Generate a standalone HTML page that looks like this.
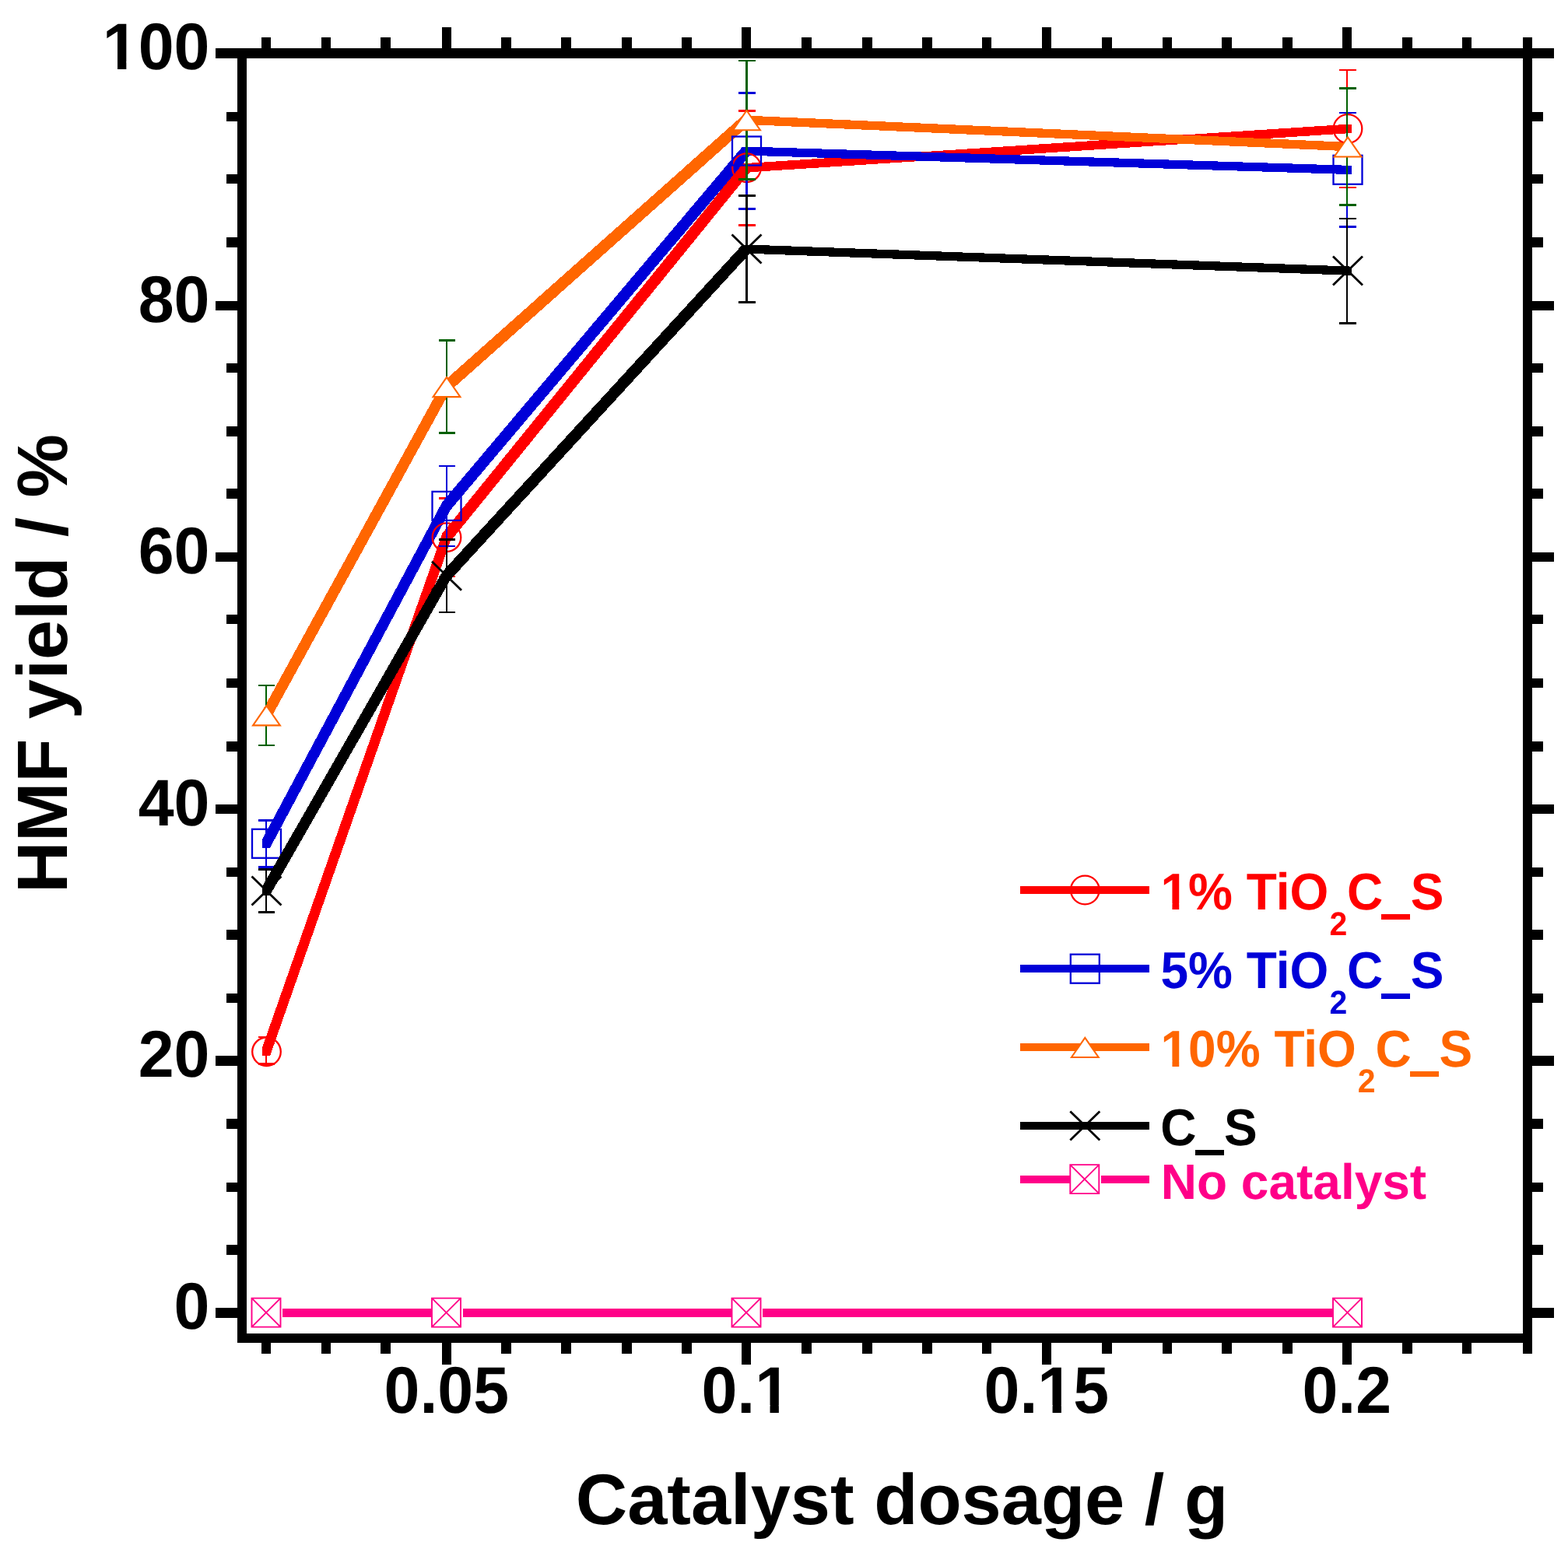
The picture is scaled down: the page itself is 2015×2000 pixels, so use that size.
<!DOCTYPE html>
<html lang="en">
<head>
<meta charset="utf-8">
<title>HMF yield vs catalyst dosage</title>
<style>
html,body{margin:0;padding:0;background:#fff;overflow:hidden;}
body{width:2015px;height:2000px;overflow:hidden;}
svg{display:block;}
text{white-space:pre;text-rendering:geometricPrecision;}
</style>
</head>
<body>
<svg width="2015" height="2000" viewBox="0 0 2015 2000">
<rect x="0" y="0" width="2015" height="2000" fill="#fff"/>
<g id="plot" shape-rendering="crispEdges">
<rect x="341" y="1333.1" width="2" height="34.2" fill="#ff0000"/>
<rect x="332" y="1331.8" width="21" height="2.6" fill="#ff0000"/>
<rect x="332" y="1366" width="21" height="2.6" fill="#ff0000"/>
<rect x="573" y="640.4" width="2" height="100.6" fill="#ff0000"/>
<rect x="564" y="639.1" width="21" height="2.6" fill="#ff0000"/>
<rect x="564" y="739.7" width="21" height="2.6" fill="#ff0000"/>
<rect x="958" y="142.2" width="3" height="147" fill="#ff0000"/>
<rect x="949" y="140.9" width="22" height="2.6" fill="#ff0000"/>
<rect x="949" y="287.9" width="22" height="2.6" fill="#ff0000"/>
<rect x="1730" y="90" width="2" height="151" fill="#ff0000"/>
<rect x="1721" y="88.7" width="22" height="2.6" fill="#ff0000"/>
<rect x="1721" y="239.7" width="22" height="2.6" fill="#ff0000"/>
<path d="M337.0,1346.4 568.5,685.3 578.5,685.3 578.5,696.2 347.0,1357.3 337.0,1357.3ZM568.5,685.3 954.0,210.3 964.0,210.3 964.0,221.2 578.5,696.2 568.5,696.2ZM954.0,210.3 1726.5,160.1 1736.5,160.1 1736.5,171.0 964.0,221.2 954.0,221.2Z" fill="#ff0000"/>
<path d="M337.0,1078.9 568.5,645.0 578.5,645.0 578.5,655.9 347.0,1089.8 337.0,1089.8ZM568.5,645.0 954.0,188.6 964.0,188.6 964.0,199.5 578.5,655.9 568.5,655.9ZM954.0,188.6 964.0,188.6 1736.5,212.9 1736.5,223.8 1726.5,223.8 954.0,199.5Z" fill="#0000d8"/>
<path d="M337.0,914.0 568.5,491.7 578.5,491.7 578.5,502.6 347.0,924.9 337.0,924.9ZM568.5,491.7 954.0,148.8 964.0,148.8 964.0,159.7 578.5,502.6 568.5,502.6ZM954.0,148.8 964.0,148.8 1736.5,183.1 1736.5,194.0 1726.5,194.0 954.0,159.7Z" fill="#ff6600"/>
</g><g id="sym1">
<circle cx="342.5" cy="1351.8" r="18.3" fill="none" stroke="#ff0000" stroke-width="2.3"/>
<circle cx="574.0" cy="690.7" r="18.3" fill="none" stroke="#ff0000" stroke-width="2.3"/>
<circle cx="959.5" cy="215.7" r="18.3" fill="none" stroke="#ff0000" stroke-width="2.3"/>
<circle cx="1732.0" cy="165.5" r="18.3" fill="none" stroke="#ff0000" stroke-width="2.3"/>
<rect x="324.0" y="1065.8" width="37" height="37" fill="none" stroke="#0000d8" stroke-width="2.3"/>
<rect x="555.5" y="631.9" width="37" height="37" fill="none" stroke="#0000d8" stroke-width="2.3"/>
<rect x="941.0" y="175.5" width="37" height="37" fill="none" stroke="#0000d8" stroke-width="2.3"/>
<rect x="1713.5" y="199.8" width="37" height="37" fill="none" stroke="#0000d8" stroke-width="2.3"/>
</g><g shape-rendering="crispEdges">
<rect x="341" y="1054.3" width="2" height="60" fill="#0000d8"/>
<rect x="332" y="1053" width="21" height="2.6" fill="#0000d8"/>
<rect x="332" y="1113" width="21" height="2.6" fill="#0000d8"/>
<rect x="573" y="599" width="2" height="102.8" fill="#0000d8"/>
<rect x="564" y="597.7" width="21" height="2.6" fill="#0000d8"/>
<rect x="564" y="700.5" width="21" height="2.6" fill="#0000d8"/>
<rect x="958" y="119.7" width="3" height="148.6" fill="#0000d8"/>
<rect x="949" y="118.4" width="22" height="2.6" fill="#0000d8"/>
<rect x="949" y="267" width="22" height="2.6" fill="#0000d8"/>
<rect x="1730" y="145.1" width="2" height="146.4" fill="#0000d8"/>
<rect x="1721" y="143.8" width="22" height="2.6" fill="#0000d8"/>
<rect x="1721" y="290.2" width="22" height="2.6" fill="#0000d8"/>
<rect x="341" y="880.9" width="2" height="77" fill="#006000"/>
<rect x="332" y="879.6" width="21" height="2.6" fill="#006000"/>
<rect x="332" y="956.6" width="21" height="2.6" fill="#006000"/>
<rect x="573" y="437.5" width="2" height="119.2" fill="#006000"/>
<rect x="564" y="436.2" width="21" height="2.6" fill="#006000"/>
<rect x="564" y="555.4" width="21" height="2.6" fill="#006000"/>
<rect x="958" y="78" width="3" height="152.4" fill="#006000"/>
<rect x="949" y="76.7" width="22" height="2.6" fill="#006000"/>
<rect x="949" y="229.1" width="22" height="2.6" fill="#006000"/>
<rect x="1730" y="113.5" width="2" height="150" fill="#006000"/>
<rect x="1721" y="112.2" width="22" height="2.6" fill="#006000"/>
<rect x="1721" y="262.2" width="22" height="2.6" fill="#006000"/>
</g><g id="sym2">
<path d="M325.1,932.4 L342.5,907.2 L359.9,932.4 Z" fill="#fff" stroke="#ff6600" stroke-width="2.1" stroke-linejoin="miter"/>
<path d="M556.6,510.1 L574.0,484.9 L591.4,510.1 Z" fill="#fff" stroke="#ff6600" stroke-width="2.1" stroke-linejoin="miter"/>
<path d="M942.1,167.2 L959.5,142.0 L976.9,167.2 Z" fill="#fff" stroke="#ff6600" stroke-width="2.1" stroke-linejoin="miter"/>
<path d="M1714.6,201.5 L1732.0,176.3 L1749.4,201.5 Z" fill="#fff" stroke="#ff6600" stroke-width="2.1" stroke-linejoin="miter"/>
</g><g shape-rendering="crispEdges">
<path d="M337.0,1139.6 568.5,734.8 578.5,734.8 578.5,745.7 347.0,1150.5 337.0,1150.5ZM568.5,734.8 954.0,314.6 964.0,314.6 964.0,325.5 578.5,745.7 568.5,745.7ZM954.0,314.6 964.0,314.6 1736.5,342.6 1736.5,353.5 1726.5,353.5 954.0,325.5Z" fill="#000000"/>
<rect x="341" y="1117.3" width="2" height="55.4" fill="#000000"/>
<rect x="332" y="1116" width="21" height="2.6" fill="#000000"/>
<rect x="332" y="1171.4" width="21" height="2.6" fill="#000000"/>
<rect x="573" y="693.3" width="2" height="93.8" fill="#000000"/>
<rect x="564" y="692" width="21" height="2.6" fill="#000000"/>
<rect x="564" y="785.8" width="21" height="2.6" fill="#000000"/>
<rect x="958" y="251.7" width="3" height="136.6" fill="#000000"/>
<rect x="949" y="250.4" width="22" height="2.6" fill="#000000"/>
<rect x="949" y="387" width="22" height="2.6" fill="#000000"/>
<rect x="1730" y="280.8" width="2" height="134.4" fill="#000000"/>
<rect x="1721" y="279.5" width="22" height="2.6" fill="#000000"/>
<rect x="1721" y="413.9" width="22" height="2.6" fill="#000000"/>
</g><g id="sym3">
<path d="M323.5,1126.5 L361.5,1163.5 M323.5,1163.5 L361.5,1126.5" fill="none" stroke="#000000" stroke-width="2.8"/>
<path d="M555.0,721.7 L593.0,758.7 M555.0,758.7 L593.0,721.7" fill="none" stroke="#000000" stroke-width="2.8"/>
<path d="M940.5,301.5 L978.5,338.5 M940.5,338.5 L978.5,301.5" fill="none" stroke="#000000" stroke-width="2.8"/>
<path d="M1713.0,329.5 L1751.0,366.5 M1713.0,366.5 L1751.0,329.5" fill="none" stroke="#000000" stroke-width="2.8"/>
</g><g shape-rendering="crispEdges">
<rect x="363.3" y="1682.1" width="191.3" height="10.8" fill="#ff0088"/>
<rect x="594.8" y="1682.1" width="345.3" height="10.8" fill="#ff0088"/>
<rect x="980.3" y="1682.1" width="732.3" height="10.8" fill="#ff0088"/>
</g><g id="sym4">
<path d="M323.5,1668.6 h37 v37 h-37 Z M323.5,1668.6 l37,37 M323.5,1705.6 l37,-37" fill="#fff" stroke="#ff0088" stroke-width="1.9"/>
<path d="M555.0,1668.6 h37 v37 h-37 Z M555.0,1668.6 l37,37 M555.0,1705.6 l37,-37" fill="#fff" stroke="#ff0088" stroke-width="1.9"/>
<path d="M940.5,1668.6 h37 v37 h-37 Z M940.5,1668.6 l37,37 M940.5,1705.6 l37,-37" fill="#fff" stroke="#ff0088" stroke-width="1.9"/>
<path d="M1713.0,1668.6 h37 v37 h-37 Z M1713.0,1668.6 l37,37 M1713.0,1705.6 l37,-37" fill="#fff" stroke="#ff0088" stroke-width="1.9"/>
</g>
<g id="axes" fill="#000" shape-rendering="crispEdges">
<rect x="305" y="62" width="1664" height="13" fill="#000"/>
<rect x="305" y="1714" width="1664" height="12" fill="#000"/>
<rect x="305" y="62" width="12" height="1664" fill="#000"/>
<rect x="1957" y="62" width="12" height="1664" fill="#000"/>
<rect x="277" y="1681" width="28" height="13" fill="#000"/>
<rect x="1969" y="1681" width="28" height="13" fill="#000"/>
<rect x="291" y="1600" width="14" height="13" fill="#000"/>
<rect x="1969" y="1600" width="14" height="13" fill="#000"/>
<rect x="291" y="1520" width="14" height="12" fill="#000"/>
<rect x="1969" y="1520" width="14" height="12" fill="#000"/>
<rect x="291" y="1438" width="14" height="13" fill="#000"/>
<rect x="1969" y="1438" width="14" height="13" fill="#000"/>
<rect x="277" y="1357" width="28" height="13" fill="#000"/>
<rect x="1969" y="1357" width="28" height="13" fill="#000"/>
<rect x="291" y="1277" width="14" height="12" fill="#000"/>
<rect x="1969" y="1277" width="14" height="12" fill="#000"/>
<rect x="291" y="1195" width="14" height="13" fill="#000"/>
<rect x="1969" y="1195" width="14" height="13" fill="#000"/>
<rect x="291" y="1115" width="14" height="12" fill="#000"/>
<rect x="1969" y="1115" width="14" height="12" fill="#000"/>
<rect x="277" y="1034" width="28" height="12" fill="#000"/>
<rect x="1969" y="1034" width="28" height="12" fill="#000"/>
<rect x="291" y="953" width="14" height="13" fill="#000"/>
<rect x="1969" y="953" width="14" height="13" fill="#000"/>
<rect x="291" y="872" width="14" height="12" fill="#000"/>
<rect x="1969" y="872" width="14" height="12" fill="#000"/>
<rect x="291" y="790" width="14" height="12" fill="#000"/>
<rect x="1969" y="790" width="14" height="12" fill="#000"/>
<rect x="277" y="710" width="28" height="12" fill="#000"/>
<rect x="1969" y="710" width="28" height="12" fill="#000"/>
<rect x="291" y="628" width="14" height="13" fill="#000"/>
<rect x="1969" y="628" width="14" height="13" fill="#000"/>
<rect x="291" y="548" width="14" height="13" fill="#000"/>
<rect x="1969" y="548" width="14" height="13" fill="#000"/>
<rect x="291" y="467" width="14" height="12" fill="#000"/>
<rect x="1969" y="467" width="14" height="12" fill="#000"/>
<rect x="277" y="387" width="28" height="12" fill="#000"/>
<rect x="1969" y="387" width="28" height="12" fill="#000"/>
<rect x="291" y="305" width="14" height="13" fill="#000"/>
<rect x="1969" y="305" width="14" height="13" fill="#000"/>
<rect x="291" y="224" width="14" height="12" fill="#000"/>
<rect x="1969" y="224" width="14" height="12" fill="#000"/>
<rect x="291" y="144" width="14" height="12" fill="#000"/>
<rect x="1969" y="144" width="14" height="12" fill="#000"/>
<rect x="277" y="62" width="28" height="13" fill="#000"/>
<rect x="1969" y="62" width="28" height="13" fill="#000"/>
<rect x="336" y="48" width="12" height="14" fill="#000"/>
<rect x="336" y="1726" width="12" height="14" fill="#000"/>
<rect x="413" y="48" width="12" height="14" fill="#000"/>
<rect x="413" y="1726" width="12" height="14" fill="#000"/>
<rect x="489" y="48" width="13" height="14" fill="#000"/>
<rect x="489" y="1726" width="13" height="14" fill="#000"/>
<rect x="568" y="35" width="12" height="27" fill="#000"/>
<rect x="568" y="1726" width="12" height="28" fill="#000"/>
<rect x="644" y="48" width="13" height="14" fill="#000"/>
<rect x="644" y="1726" width="13" height="14" fill="#000"/>
<rect x="721" y="48" width="13" height="14" fill="#000"/>
<rect x="721" y="1726" width="13" height="14" fill="#000"/>
<rect x="799" y="48" width="13" height="14" fill="#000"/>
<rect x="799" y="1726" width="13" height="14" fill="#000"/>
<rect x="876" y="48" width="13" height="14" fill="#000"/>
<rect x="876" y="1726" width="13" height="14" fill="#000"/>
<rect x="953" y="35" width="12" height="27" fill="#000"/>
<rect x="953" y="1726" width="12" height="28" fill="#000"/>
<rect x="1030" y="48" width="13" height="14" fill="#000"/>
<rect x="1030" y="1726" width="13" height="14" fill="#000"/>
<rect x="1108" y="48" width="13" height="14" fill="#000"/>
<rect x="1108" y="1726" width="13" height="14" fill="#000"/>
<rect x="1185" y="48" width="13" height="14" fill="#000"/>
<rect x="1185" y="1726" width="13" height="14" fill="#000"/>
<rect x="1262" y="48" width="12" height="14" fill="#000"/>
<rect x="1262" y="1726" width="12" height="14" fill="#000"/>
<rect x="1339" y="35" width="12" height="27" fill="#000"/>
<rect x="1339" y="1726" width="12" height="28" fill="#000"/>
<rect x="1416" y="48" width="13" height="14" fill="#000"/>
<rect x="1416" y="1726" width="13" height="14" fill="#000"/>
<rect x="1494" y="48" width="12" height="14" fill="#000"/>
<rect x="1494" y="1726" width="12" height="14" fill="#000"/>
<rect x="1570" y="48" width="13" height="14" fill="#000"/>
<rect x="1570" y="1726" width="13" height="14" fill="#000"/>
<rect x="1648" y="48" width="13" height="14" fill="#000"/>
<rect x="1648" y="1726" width="13" height="14" fill="#000"/>
<rect x="1725" y="35" width="12" height="27" fill="#000"/>
<rect x="1725" y="1726" width="12" height="28" fill="#000"/>
<rect x="1802" y="48" width="13" height="14" fill="#000"/>
<rect x="1802" y="1726" width="13" height="14" fill="#000"/>
<rect x="1879" y="48" width="12" height="14" fill="#000"/>
<rect x="1879" y="1726" width="12" height="14" fill="#000"/>
<rect x="1957" y="48" width="12" height="14" fill="#000"/>
<rect x="1957" y="1726" width="12" height="14" fill="#000"/>
</g>
<g id="labels" font-family='"Liberation Sans", sans-serif' font-weight="bold">
<text transform="translate(269.4,1708.3) scale(1,1.027)" font-size="82.5" text-anchor="end" fill="#000">0</text>
<text transform="translate(269.4,1384.3) scale(1,1.027)" font-size="82.5" text-anchor="end" fill="#000">20</text>
<text transform="translate(269.4,1060.8) scale(1,1.027)" font-size="82.5" text-anchor="end" fill="#000">40</text>
<text transform="translate(269.4,736.8) scale(1,1.027)" font-size="82.5" text-anchor="end" fill="#000">60</text>
<text transform="translate(269.4,413.8) scale(1,1.027)" font-size="82.5" text-anchor="end" fill="#000">80</text>
<text transform="translate(269.4,89.3) scale(1,1.027)" font-size="82.5" text-anchor="end" fill="#000">100</text>
<path d="M135.78,79.16 H151.01 V90.33 H135.78 Z M162.33,79.16 H176.47 V90.33 H162.33 Z" fill="#fff"/>
<text transform="translate(573.8,1816.2) scale(1,1.027)" font-size="82.5" text-anchor="middle" fill="#000">0.05</text>
<text transform="translate(958.8,1816.2) scale(1,1.027)" font-size="82.5" text-anchor="middle" fill="#000">0.1</text>
<path d="M974.29,1806.06 H989.52 V1817.23 H974.29 Z M1000.84,1806.06 H1014.97 V1817.23 H1000.84 Z" fill="#fff"/>
<text transform="translate(1344.8,1816.2) scale(1,1.027)" font-size="82.5" text-anchor="middle" fill="#000">0.15</text>
<path d="M1337.35,1806.06 H1352.57 V1817.23 H1337.35 Z M1363.89,1806.06 H1378.03 V1817.23 H1363.89 Z" fill="#fff"/>
<text transform="translate(1730.8,1816.2) scale(1,1.027)" font-size="82.5" text-anchor="middle" fill="#000">0.2</text>
<text x="739.7" y="1958.5" font-size="92" text-anchor="start" fill="#000">Catalyst dosage / g</text>
<text transform="translate(86.2,1147.8) rotate(-90)" font-size="91.5" fill="#000">HMF yield / %</text>
</g>
<g shape-rendering="crispEdges">
<rect x="1311" y="1139" width="166" height="10" fill="#ff0000"/>
</g>
<circle cx="1394.3" cy="1144.0" r="18.3" fill="none" stroke="#ff0000" stroke-width="2.3"/>
<g font-family='"Liberation Sans", sans-serif' font-weight="bold">
<text transform="translate(1491.5,1169.1) scale(1,1.04)" font-size="64" fill="#ff0000"><tspan x="0" y="0">1% TiO</tspan><tspan x="217.1" y="31.73" font-size="41">2</tspan><tspan x="239.5" y="0">C_S</tspan></text>
<path d="M1494.62,1161.14 H1506.44 V1169.91 H1494.62 Z M1515.22,1161.14 H1526.19 V1169.91 H1515.22 Z" fill="#fff"/>
</g>
<g shape-rendering="crispEdges">
<rect x="1774.7" y="1173.1" width="40.2" height="5" fill="#fff"/>
<rect x="1775.2" y="1175.4" width="37.2" height="7" fill="#ff0000"/>
</g>
<g shape-rendering="crispEdges">
<rect x="1311" y="1240.2" width="166" height="10" fill="#0000d8"/>
</g>
<rect x="1375.8" y="1226.7" width="37" height="37" fill="none" stroke="#0000d8" stroke-width="2.3"/>
<g font-family='"Liberation Sans", sans-serif' font-weight="bold">
<text transform="translate(1491.5,1270.3) scale(1,1.04)" font-size="64" fill="#0000d8"><tspan x="0" y="0">5% TiO</tspan><tspan x="217.1" y="31.73" font-size="41">2</tspan><tspan x="239.5" y="0">C_S</tspan></text>
</g>
<g shape-rendering="crispEdges">
<rect x="1774.7" y="1274.3" width="40.2" height="5" fill="#fff"/>
<rect x="1775.2" y="1276.6" width="37.2" height="7" fill="#0000d8"/>
</g>
<g shape-rendering="crispEdges">
<rect x="1311" y="1341" width="166" height="10" fill="#ff6600"/>
</g>
<path d="M1376.9,1359.0 L1394.3,1333.8 L1411.7,1359.0 Z" fill="#fff" stroke="#ff6600" stroke-width="2.1" stroke-linejoin="miter"/>
<g font-family='"Liberation Sans", sans-serif' font-weight="bold">
<text transform="translate(1491.5,1371.1) scale(1,1.04)" font-size="64" fill="#ff6600"><tspan x="0" y="0">10% TiO</tspan><tspan x="253.2" y="31.73" font-size="41">2</tspan><tspan x="276.1" y="0">C_S</tspan></text>
<path d="M1494.62,1363.14 H1506.44 V1371.91 H1494.62 Z M1515.22,1363.14 H1526.19 V1371.91 H1515.22 Z" fill="#fff"/>
</g>
<g shape-rendering="crispEdges">
<rect x="1811.3" y="1375.1" width="40.2" height="5" fill="#fff"/>
<rect x="1811.8" y="1377.4" width="37.2" height="7" fill="#ff6600"/>
</g>
<g shape-rendering="crispEdges">
<rect x="1311" y="1442" width="166" height="10" fill="#000000"/>
</g>
<path d="M1375.3,1428.5 L1413.3,1465.5 M1375.3,1465.5 L1413.3,1428.5" fill="none" stroke="#000000" stroke-width="2.8"/>
<g font-family='"Liberation Sans", sans-serif' font-weight="bold">
<text transform="translate(1491.3,1472.1) scale(1,1.04)" font-size="64" text-anchor="start" fill="#000000">C_S</text>
</g>
<g shape-rendering="crispEdges">
<rect x="1535" y="1476.1" width="40.2" height="5" fill="#fff"/>
<rect x="1535.5" y="1477.7" width="37.2" height="7" fill="#000000"/>
</g>
<g shape-rendering="crispEdges">
<rect x="1311" y="1511" width="64" height="10" fill="#ff0088"/>
<rect x="1415.3" y="1511" width="61.7" height="10" fill="#ff0088"/>
</g>
<path d="M1375.3,1497.1 h37 v37 h-37 Z M1375.3,1497.1 l37,37 M1375.3,1534.1 l37,-37" fill="#fff" stroke="#ff0088" stroke-width="1.9"/>
<g font-family='"Liberation Sans", sans-serif' font-weight="bold">
<text x="1491.7" y="1541.1" font-size="64" text-anchor="start" fill="#ff0088">No catalyst</text>
</g>
</svg>
</body>
</html>
